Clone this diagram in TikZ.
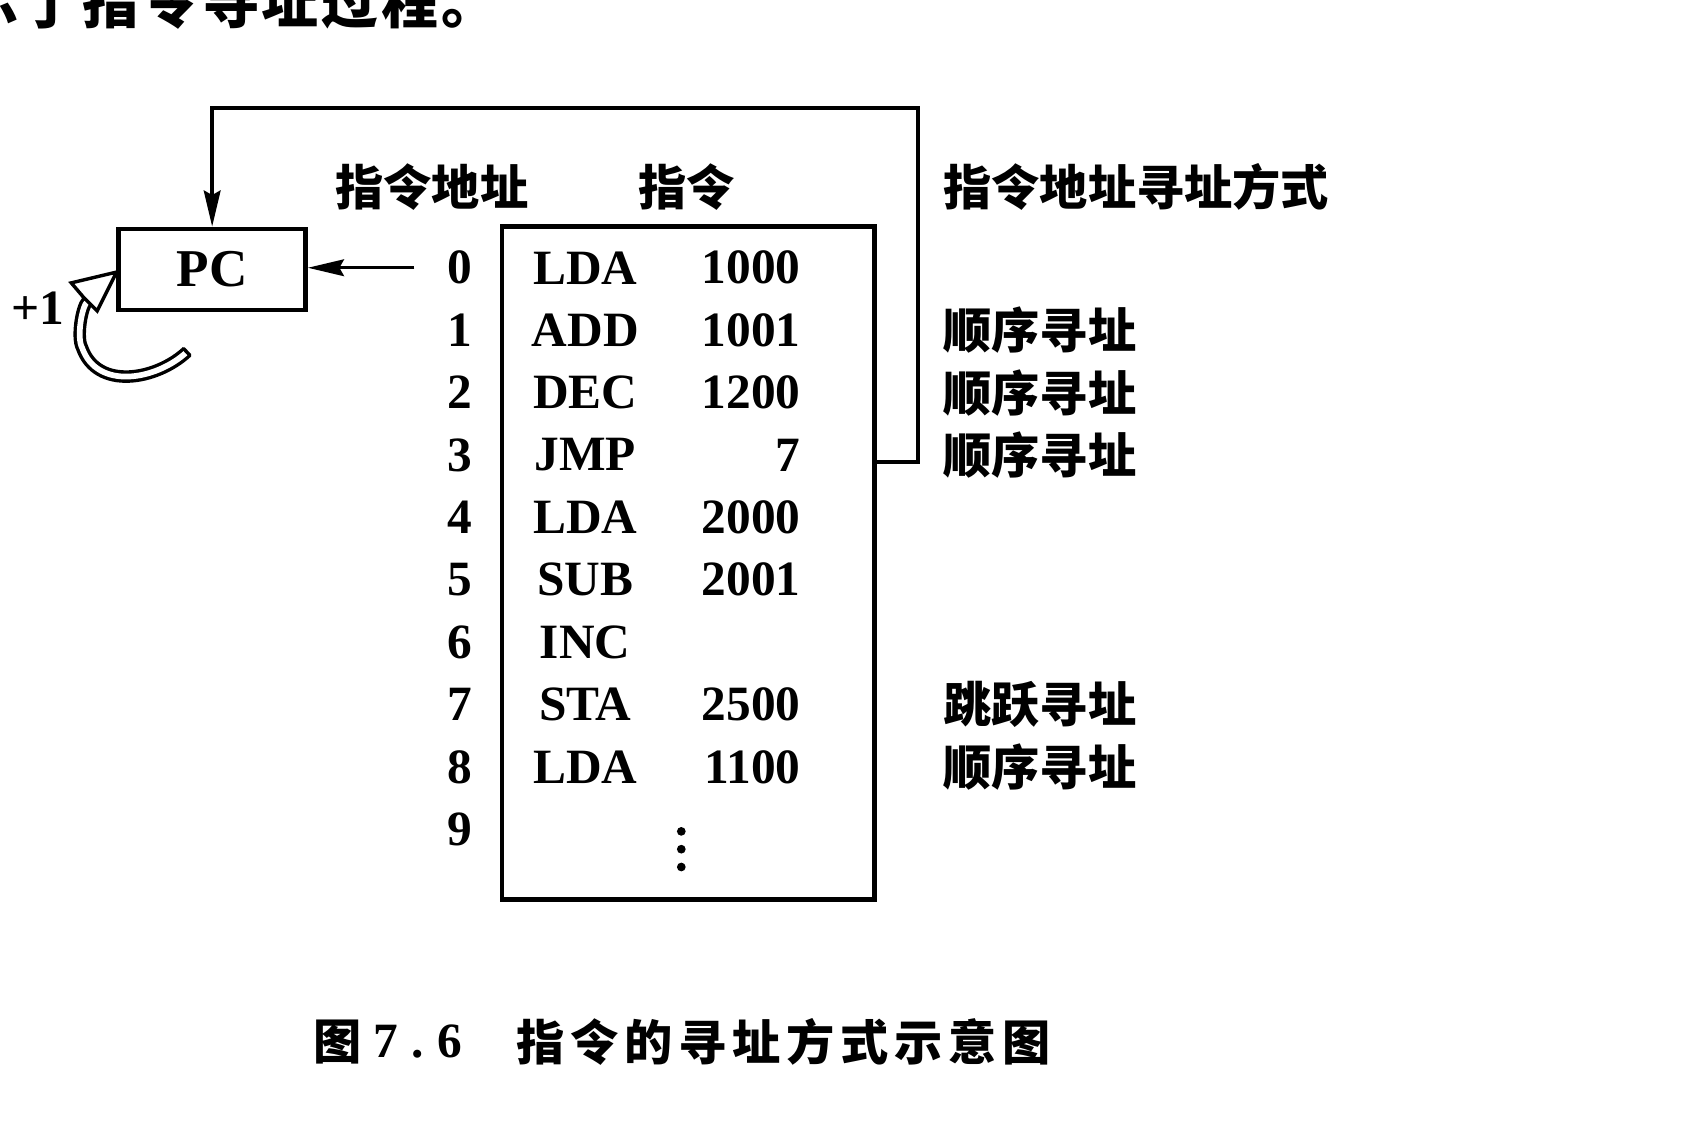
\documentclass[tikz,border=0pt]{standalone}
\usepackage{fontspec}
\usetikzlibrary{arrows.meta}
\setmainfont{Liberation Serif}
\newfontfamily\cjk{Noto Sans CJK SC}
\newfontfamily\cjkwide{Noto Sans CJK SC}[LetterSpace=12]
\newfontfamily\cjktop{Noto Sans CJK SC}[LetterSpace=5]
\newfontfamily\numwide{Liberation Serif}[LetterSpace=28]

\begin{document}
\begin{tikzpicture}[x=0.01cm,y=-0.01cm,
  lat/.style={font=\fontsize{13}{14}\selectfont\bfseries, inner sep=0pt},
  hz/.style={font=\cjk\fontsize{12.7}{14}\selectfont\bfseries, inner sep=0pt},
  boxline/.style={draw, line width=1.2pt},
  fb/.style={line width=0.95pt},
  tip/.style={-{Stealth[length=9.5pt,width=4.4pt,inset=1.2pt]}},
  hollow/.style={line width=0.9pt, double distance=1.5pt},
]
\useasboundingbox (0,0) rectangle (1568,1055);

% running text line of the page, cut by the top edge
\node[font=\cjktop\fontsize{15}{16}\selectfont\bfseries, inner sep=0pt,
      anchor=base west] (topline) at (-35,22) {示了指令寻址过程。};

% column headings
\node[hz] (hAddr)  at (400,173) {指令地址};
\node[hz] (hInstr) at (636,173) {指令};
\node[hz,anchor=west] (hMode) at (873,173) {指令地址寻址方式};

% program counter and memory
\node[boxline, font=\fontsize{14}{15}\selectfont\bfseries, inner sep=0pt,
      minimum width=1.73cm, minimum height=0.75cm] (pc)
  at (196.5,249.5) {PC};
\node[boxline, minimum width=3.45cm, minimum height=6.23cm] (mem)
  at (637.5,521.5) {};

% memory contents
\foreach \i/\op/\arg in {0/LDA/1000,1/ADD/1001,2/DEC/1200,3/JMP/7,
                         4/LDA/2000,5/SUB/2001,6/INC/,7/STA/2500,8/LDA/1100,9//}{
  \node[lat] (n\i) at (426,{248+57.8*\i}) {\i};
  \node[lat] (op\i) at (542,{248+57.8*\i}) {\op};
  \node[lat,anchor=east] (arg\i) at (742,{248+57.8*\i}) {\arg};
}
\foreach \k in {0,1,2}
  \fill (631,{770+16.5*\k}) circle[radius=1.15pt];

% addressing modes
\node[hz,anchor=west] (m1) at (op1 -| hMode.west) {顺序寻址};
\node[hz,anchor=west] (m2) at (op2 -| hMode.west) {顺序寻址};
\node[hz,anchor=west] (m3) at (op3 -| hMode.west) {顺序寻址};
\node[hz,anchor=west] (m7) at (op7 -| hMode.west) {跳跃寻址};
\node[hz,anchor=west] (m8) at (op8 -| hMode.west) {顺序寻址};

% address 0 loaded into PC
\draw[fb, line width=0.8pt, tip] ([xshift=-0.3cm]n0.west) -- (pc.east |- n0.west);

% jump target fed back to PC
\coordinate (jmpR) at (850,428);
\coordinate (topR) at (850,100);
\draw[fb, tip] (mem.east |- jmpR) -- (jmpR) -- (topR) -| (pc.north);

% +1 increment arrow
\node[lat] (inc) at (35,285) {+1};
\draw[hollow] (173,326) .. controls (145,352) and (90,362) .. (76,322)
  .. controls (71,313) and (75.4,284.7) .. (81,279);
\draw[line width=0.9pt, line cap=round] (170.1,322.9) -- (175.9,329.1);
\draw[line width=0.9pt, fill=white, line join=miter]
  (108,252) -- (66,262) -- (78,276.1) -- (84,281.9) -- (90,288) -- cycle;

% caption
\node[hz,anchor=west] (capFig) at (290,965) {图};
\node[font=\numwide\fontsize{13}{14}\selectfont\bfseries, inner sep=0pt,
      anchor=west] (capNum) at (345,965) {7.6};
\node[font=\cjkwide\fontsize{12.7}{14}\selectfont\bfseries, inner sep=0pt,
      anchor=west] (capText) at (478,965) {指令的寻址方式示意图};
\end{tikzpicture}
\end{document}
